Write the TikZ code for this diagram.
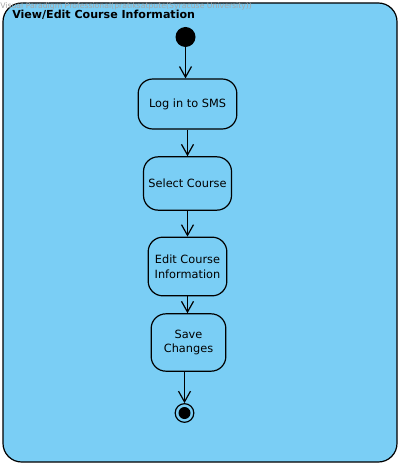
\documentclass[tikz,border=0pt]{standalone}
\usepackage{fontspec}
\setmainfont{DejaVu Sans}
\usepackage{tikz}
\usetikzlibrary{arrows.meta}
\definecolor{framebg}{RGB}{122,206,245}

\begin{document}
\begin{tikzpicture}[x=0.75pt, y=-0.75pt,
	action/.style={draw, rounded corners=11pt, line width=0.9pt, inner sep=0pt, align=center, font=\fontsize{8.5}{11}\selectfont},
	flow/.style={line width=0.9pt, arrows={-Straight Barb[length=8pt,width=9pt]}}]
	\useasboundingbox (0,0) rectangle (401,466);
	\draw[line width=0.9pt, fill=framebg, rounded corners=14pt] (3,3) rectangle (397,462);
	\node[anchor=west, gray!70, font=\fontsize{5.8}{6}\selectfont, inner sep=0pt] (wm) at (0,6) {Visual Paradigm Professional(pratiksatpute(Syracuse University))};
	\node[anchor=west, font=\bfseries\fontsize{8.3}{10}\selectfont, inner sep=0pt] (title) at (12,15) {View/Edit Course Information};
	
	%Nodes
	\node[circle, fill=black, minimum size=15pt, inner sep=0pt] (start) at (185.5,37) {};
	\node[action, minimum width=74pt, minimum height=37.5pt] (login) at (187.5,104) {Log in to SMS};
	\node[action, minimum width=66pt, minimum height=40pt] (select) at (187.5,183.5) {Select Course};
	\node[action, minimum width=59pt, minimum height=44pt] (edit) at (187.5,266.5) {Edit Course\\Information};
	\node[action, minimum width=56pt, minimum height=43pt] (save) at (188.5,342.5) {Save\\Changes};
	\node[circle, draw, line width=0.9pt, minimum size=14pt, inner sep=0pt] (stop) at (184.5,413) {};
	\fill (stop) circle (4.5pt);
	
	%Flows
	\draw[flow] (start) -- (start |- login.north);
	\draw[flow] (login.south) -- (select);
	\draw[flow] (select.south) -- (select.south |- edit.north);
	\draw[flow] (edit.south) -- (edit.south |- save.north);
	\draw[flow] (save.south -| stop) -- (stop);
\end{tikzpicture}
\end{document}
